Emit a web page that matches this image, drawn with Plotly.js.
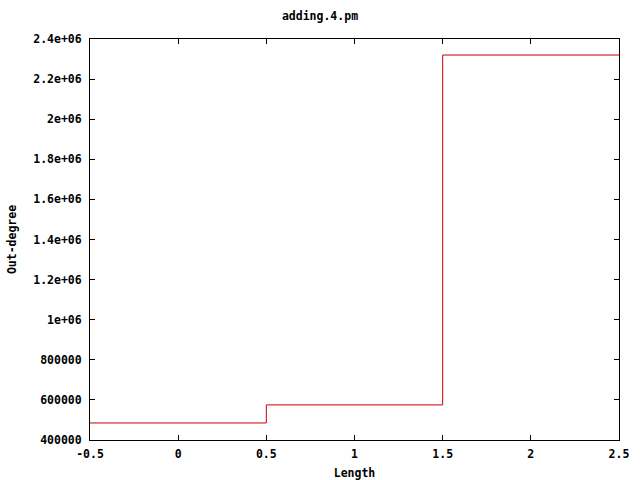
<!DOCTYPE html>
<html>
<head>
<meta charset="utf-8">
<script src="https://cdn.plot.ly/plotly-3.0.1.min.js"></script>
<style>html,body{margin:0;padding:0;background:#fff}#chart{width:640px;height:480px}</style>
</head>
<body>
<div id="chart"></div>
<script>
var lengths = [0, 1, 2];
var outDegree = [485000, 575000, 2320000];
var xTickVals = [-0.5, 0, 0.5, 1, 1.5, 2, 2.5];
var xTickText = ["-0.5", "0", "0.5", "1", "1.5", "2", "2.5"];
var yTickVals = [400000, 600000, 800000, 1000000, 1200000, 1400000, 1600000, 1800000, 2000000, 2200000, 2400000];
var yTickText = ["400000", "600000", "800000", "1e+06", "1.2e+06", "1.4e+06", "1.6e+06", "1.8e+06", "2e+06", "2.2e+06", "2.4e+06"];

// histogram-step edges derived from the categories
var stepX = [], stepY = [];
for (var i = 0; i < lengths.length; i++) {
  stepX.push(lengths[i] - 0.5);
  stepY.push(outDegree[i]);
}
stepX.push(lengths[lengths.length - 1] + 0.5);
stepY.push(outDegree[outDegree.length - 1]);

var font = {family: "DejaVu Sans Mono", size: 11.5, color: "#000", weight: "bold"};

Plotly.newPlot("chart", [{
  x: stepX, y: stepY, type: "scatter", mode: "lines",
  line: {shape: "hv", color: "#cc0000", width: 1},
  showlegend: false, hoverinfo: "none"
}], {
  width: 640, height: 480,
  margin: {l: 90, r: 21, t: 39, b: 40},
  paper_bgcolor: "#fff", plot_bgcolor: "#fff",
  font: font,
  title: {text: "adding.4.pm", font: font, x: 0.5, xanchor: "center", y: 1 - 16/480, yanchor: "middle"},
  xaxis: {
    range: [-0.5, 2.5], tickvals: xTickVals, ticktext: xTickText,
    ticks: "inside", ticklen: 5, tickcolor: "#000", mirror: "allticks",
    showline: true, linecolor: "#000", linewidth: 1, showgrid: false, zeroline: false,
    ticklabelstandoff: 3,
    tickfont: font, title: {text: "Length", font: font, standoff: 9}
  },
  yaxis: {
    range: [400000, 2400000], tickvals: yTickVals, ticktext: yTickText,
    ticks: "inside", ticklen: 5, tickcolor: "#000", mirror: "allticks",
    showline: true, linecolor: "#000", linewidth: 1, showgrid: false, zeroline: false,
    ticklabelstandoff: 5,
    tickfont: font, title: {text: "Out-degree", font: font, standoff: 14}
  }
}, {staticPlot: true});
</script>
</body>
</html>
